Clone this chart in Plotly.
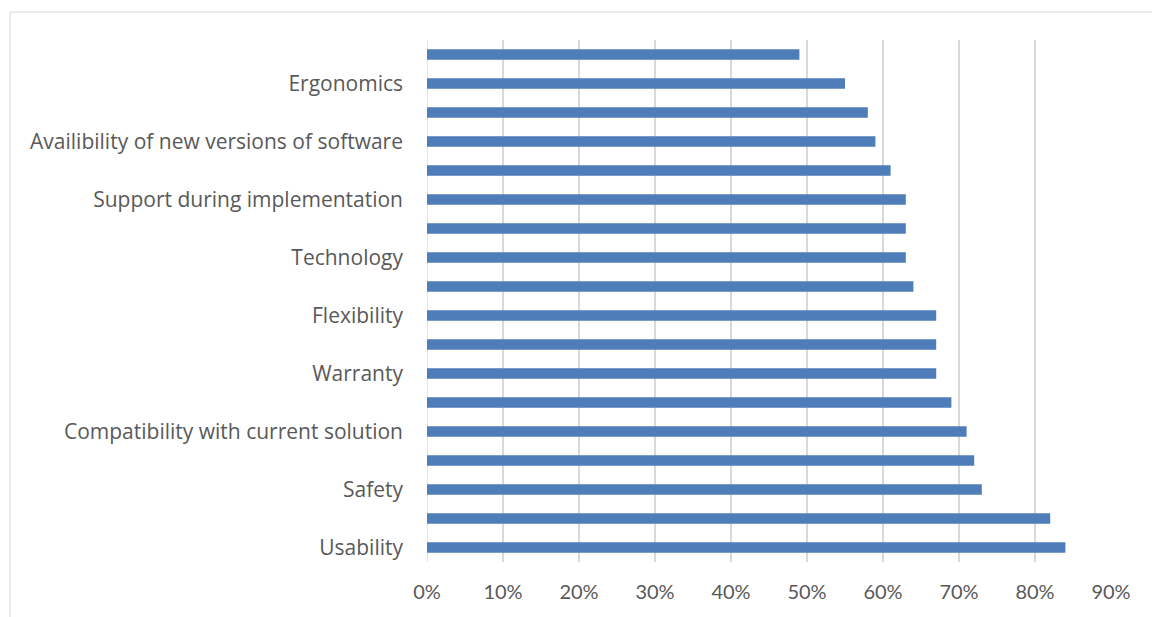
import plotly.graph_objects as go

# bottom to top
labels = ["Usability", "", "Safety", "", "Compatibility with current solution", "",
          "Warranty", "", "Flexibility", "", "Technology", "",
          "Support during implementation", "", "Availibility of new versions of software", "",
          "Ergonomics", ""]
values = [0.84, 0.82, 0.73, 0.72, 0.71, 0.69, 0.67, 0.67, 0.67, 0.64,
          0.63, 0.63, 0.63, 0.61, 0.59, 0.58, 0.55, 0.49]
x_ticks = [0, 0.1, 0.2, 0.3, 0.4, 0.5, 0.6, 0.7, 0.8, 0.9]

positions = list(range(len(values)))
shown = [i for i, t in enumerate(labels) if t]

fig = go.Figure(go.Bar(
    x=values, y=positions, orientation="h",
    marker=dict(color="#4f7dba", line=dict(width=0)),
    hoverinfo="x+y",
))

W, H = 1152, 617
L, R, T, B = 427, 41, 40, 55
pw, ph = W - L - R, H - T - B

fig.update_layout(
    width=W, height=H,
    margin=dict(l=L, r=R, t=T, b=B),
    paper_bgcolor="white", plot_bgcolor="white",
    bargap=0.64,
    showlegend=False,
    font=dict(family="Open Sans, sans-serif", color="#595959", size=19),
    xaxis=dict(range=[0, 0.9], tickvals=x_ticks, tickformat=".0%",
               showgrid=True, gridcolor="#d9d9d9", gridwidth=1.5,
               zeroline=False, showline=False, ticks="",
               ticklabelstandoff=16,
               tickfont=dict(family="Lato, sans-serif", size=20, color="#595959")),
    yaxis=dict(range=[-0.5, len(values) - 0.5], tickvals=shown,
               ticktext=[labels[i] for i in shown],
               showgrid=False, zeroline=False, showline=False, ticks="",
               ticklabelstandoff=23,
               tickfont=dict(family="Open Sans, sans-serif", size=21, color="#595959")),
    shapes=[dict(type="rect", xref="paper", yref="paper",
                 x0=(10 - L) / pw, x1=(W + 20 - L) / pw,
                 y0=-(B + 20) / ph, y1=(H - B - 12) / ph,
                 line=dict(color="#d9d9d9", width=1), fillcolor="rgba(0,0,0,0)",
                 layer="below")],
)
fig.add_vline(x=0, line=dict(color="#d9d9d9", width=1.5), layer="below")

fig.write_html("out.html")
